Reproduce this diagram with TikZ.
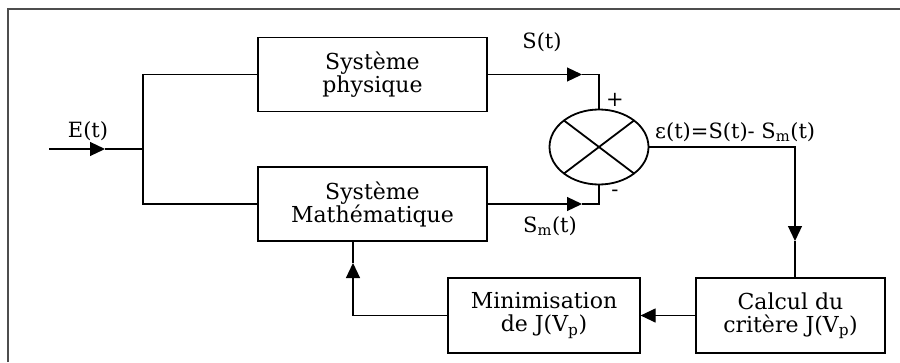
\documentclass[tikz,border=0pt]{standalone}
\usepackage{fontspec}
\setmainfont{DejaVu Serif}
\usetikzlibrary{positioning, arrows.meta, shapes.geometric, calc}
\definecolor{cadre}{HTML}{4D4D4D}

\tikzset{
  bloc/.style={draw, line width=1.2pt, minimum width=229pt, minimum height=74pt,
               align=center, inner sep=2pt, font=\fontsize{22}{23}\selectfont},
  lien/.style={line width=1.2pt},
  fleche/.style={line width=1.2pt, -{Triangle[length=15pt,width=14pt]}},
  etiq/.style={inner sep=0pt, font=\fontsize{21}{22}\selectfont},
}

\begin{document}
\begin{tikzpicture}[x=1pt, y=-1pt]
  \useasboundingbox (0,0) rectangle (900,362);
  % cadre
  \draw[line width=2pt, color=cadre] (8,362) -- (8,9) -- (900,9);

  % blocs
  \node[bloc] (phys) at (372.5,74.5) {Système\\physique};
  \node[bloc] (math) at (372.5,204) {Système\\Mathématique};
  \node[bloc, minimum width=192pt, minimum height=75pt] (mini) at (544,315.5)
       {Minimisation\\de J(V\textsubscript{p})};
  \node[bloc, minimum width=189pt, minimum height=75pt] (crit) at (790.5,315.5)
       {Calcul du\\critère J(V\textsubscript{p})};

  % comparateur
  \node[draw, ellipse, line width=1.8pt, minimum width=99pt, minimum height=75pt,
        inner sep=0pt] (comp) at (599,147) {};
  \draw[line width=1.8pt] ($(comp.center)+(-35,-26.5)$) -- ($(comp.center)+(35,26.5)$);
  \draw[line width=1.8pt] ($(comp.center)+(-35,26.5)$) -- ($(comp.center)+(35,-26.5)$);

  % etiquettes
  \node[etiq] (e) at (88,131) {E(t)};
  \node[etiq] (s) at (542,42) {S(t)};
  \node[etiq] (sm) at (550,226) {S\textsubscript{m}(t)};
  \node[etiq] (plus) at (615,100) {+};
  \node[etiq] (moins) at (615,193) {-};
  \node[etiq, anchor=west] (eps) at (655,132) {ε(t)=S(t)- S\textsubscript{m}(t)};

  % liaisons
  \coordinate (entree) at (49,149);
  \coordinate (pe) at (105,149);
  \coordinate (br) at (143,149);
  \draw[fleche] (entree) -- (pe);
  \draw[lien] (pe) -- (br);
  \draw[lien] (phys.west) -| (br) |- (math.west);

  \coordinate (ps) at (582,74.5);
  \draw[fleche] (phys.east) -- (ps);
  \draw[lien] (ps) -| (comp.north);
  \coordinate (psm) at (582,204);
  \draw[fleche] (math.east) -- (psm);
  \draw[lien] (psm) -| (comp.south);

  \coordinate (pc) at (795,241);
  \draw[fleche] (comp.east) -| (pc);
  \draw[lien] (pc) -- (pc |- crit.north);
  \draw[fleche] (crit.west) -- (mini.east);

  \coordinate (pm) at (353,263);
  \draw[fleche] (mini.west) -| (pm);
  \draw[lien] (pm) -- (pm |- math.south);
\end{tikzpicture}
\end{document}
